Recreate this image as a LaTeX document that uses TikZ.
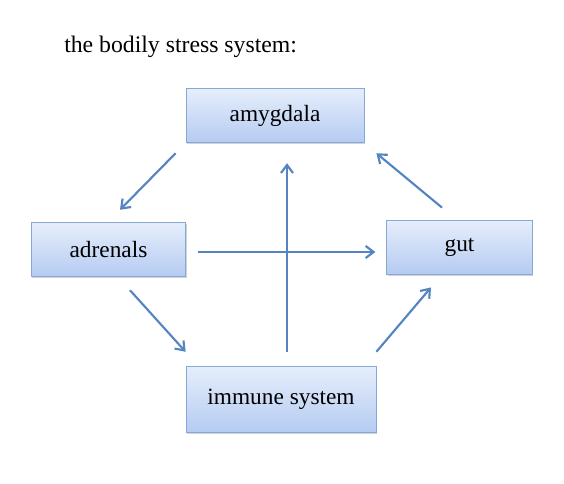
\documentclass[tikz,border=0pt]{standalone}
\usepackage{fontspec}
\setmainfont{Liberation Serif}
\usetikzlibrary{arrows.meta, shadows}
\definecolor{BoxTop}   {HTML}{E6EEFB}
\definecolor{BoxBot}   {HTML}{B5CBF2}
\definecolor{BoxLine}  {HTML}{86A8D8}
\definecolor{ArrBlue}  {HTML}{5585C0}

\begin{document}
\begin{tikzpicture}[x=0.75pt, y=-0.75pt,
    organ/.style={draw=BoxLine, line width=0.6pt, top color=BoxTop, bottom color=BoxBot,
                  drop shadow={shadow xshift=0.6pt, shadow yshift=-1.2pt, opacity=0.35},
                  font=\fontsize{17.5}{21}\selectfont, inner sep=0pt},
    link/.style={draw=ArrBlue, line width=1.6pt,
                 -{Straight Barb[length=6pt, width=9pt, line width=1.6pt]}}]
  \useasboundingbox (0,0) rectangle (564,483);
  % heading
  \node[anchor=base west, inner sep=0pt, font=\fontsize{17.8}{21}\selectfont] (title) at (64,52) {the bodily stress system:};
  % the four boxes
  \node[organ, minimum width=133.5pt, minimum height=41pt] (amy) at (275,115.5) {amygdala};
  \node[organ, minimum width=116pt, minimum height=41pt] (adr) at (108.5,249.5) {adrenals};
  \node[organ, minimum width=109pt, minimum height=40.5pt] (gut) at (459.5,247) {gut};
  \node[organ, minimum width=142.5pt, minimum height=50pt] (imm) at (281,399.5) {immune system};
  % arrows
  \draw[link] ([shift={(-10,10)}]amy.south west) -- ([shift={(11.5,-12)}]adr.north);
  \draw[link] ([shift={(21.5,13)}]adr.south) -- ([shift={(0,-14)}]imm.north west);
  \draw[link] ([shift={(12,2.5)}]adr.east) -- ([shift={(-11,5)}]gut.west);
  \draw[link] ([shift={(6,-14)}]imm.north) -- ([shift={(12,20)}]amy.south);
  \draw[link] ([shift={(0,-14)}]imm.north east) -- ([shift={(-28.5,13)}]gut.south);
  \draw[link] ([shift={(-17.5,-12)}]gut.north) -- ([shift={(12,10)}]amy.south east);
\end{tikzpicture}
\end{document}
